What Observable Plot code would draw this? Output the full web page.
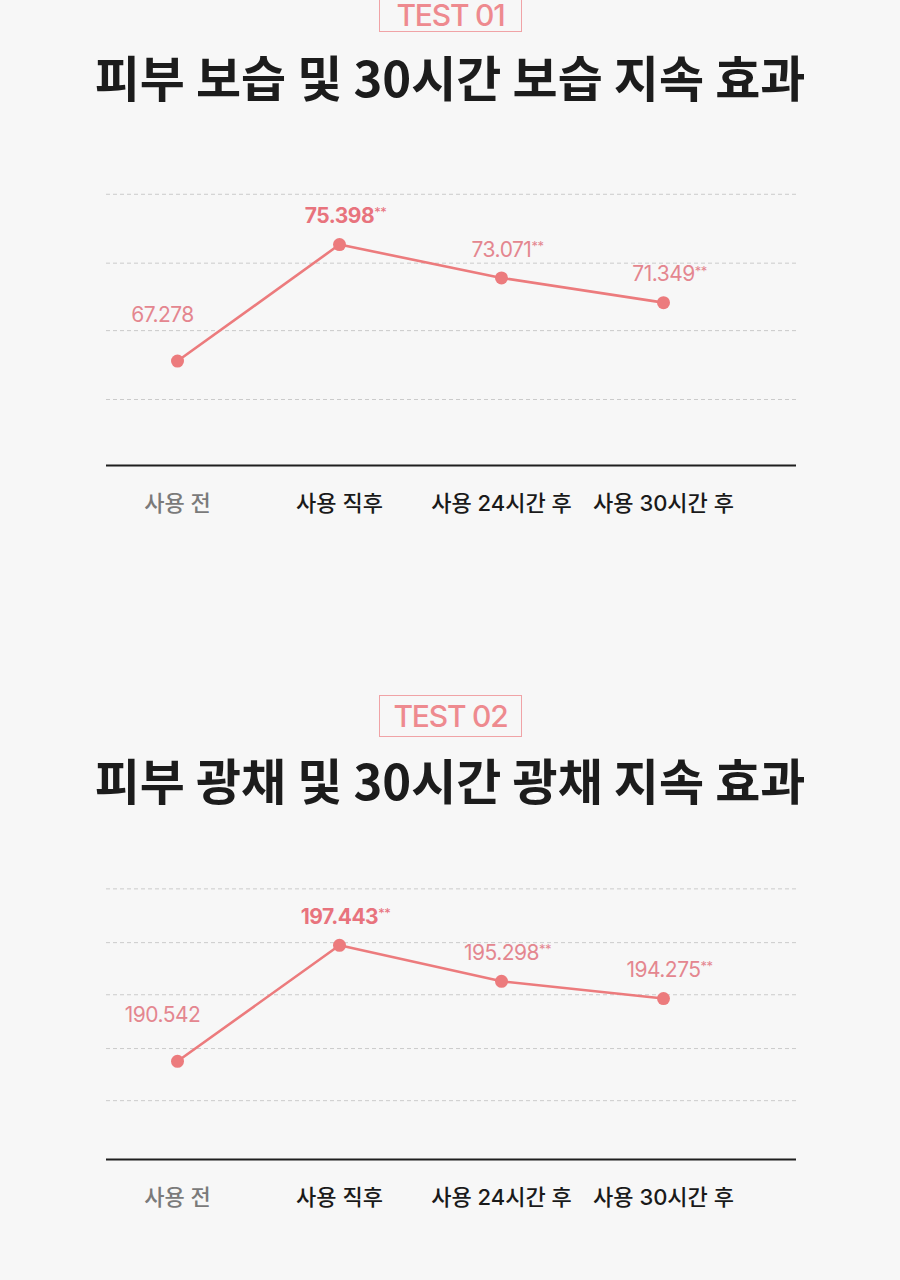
<!DOCTYPE html>
<html>
<head>
<meta charset="utf-8">
<script src="https://cdn.jsdelivr.net/npm/d3@7"></script>
<script src="https://cdn.jsdelivr.net/npm/@observablehq/plot@0.6"></script>
<style>
  html, body { margin: 0; padding: 0; }
  body { background: #f7f7f7; width: 900px; height: 1280px; overflow: hidden; position: relative;
         font-family: Inter, "Noto Sans CJK KR", sans-serif; }
  .badge { position: absolute; left: 379px; width: 143px; height: 42px; box-sizing: border-box;
           border: 1px solid #f0a3a6; color: #ee8a8f; font-family: Inter, sans-serif; font-size: 30px;
           line-height: 30px; font-weight: 500; letter-spacing: -1.2px; display: flex; align-items: center;
           justify-content: center; }
  #badge1 { height: 32px; border-top: none; align-items: flex-start; }
  .title { position: absolute; left: 0; width: 900px; text-align: center; line-height: 1;
           font-family: "Noto Sans CJK KR", sans-serif; font-weight: 700; font-size: 49px;
           letter-spacing: 0px; color: #1c1c1c; }
  .chart { position: absolute; left: 0; }
</style>
</head>
<body>
<div class="badge" id="badge1" style="top:0px"></div>
<div class="title" id="title1" style="top:51px"></div>
<div class="chart" id="chart1" style="top:150px"></div>
<div class="badge" id="badge2" style="top:695px"></div>
<div class="title" id="title2" style="top:754px"></div>
<div class="chart" id="chart2" style="top:850px"></div>
<script>
// ---- data ----
const badges = ["TEST 01", "TEST 02"];
const titles = ["피부 보습 및 30시간 보습 지속 효과", "피부 광채 및 30시간 광채 지속 효과"];
const stages = ["사용 전", "사용 직후", "사용 24시간 후", "사용 30시간 후"];
const moisture = [67.278, 75.398, 73.071, 71.349];
const radiance = [190.542, 197.443, 195.298, 194.275];
const significant = [false, true, true, true];   // "**" marker
const emphasis = [false, true, false, false];    // bold value label
const moistureDomain = [60, 80];
const moistureGrid = [64.6, 69.4, 74.1, 78.9];
const radianceDomain = [184.7, 201];
const radianceGrid = [188.2, 191.3, 194.5, 197.6, 200.8];

const fmt = d3.format(".3f");
const lineColor = "#ec7b7d";
const labelColor = "#e4868f";

function chart(values, domain, grid, marginTop, marginBottom) {
  const data = stages.map((stage, i) => ({stage, value: values[i], i}));
  const svg = Plot.plot({
    width: 900,
    height: 400,
    marginLeft: 106,
    marginRight: 104,
    marginTop,
    marginBottom,
    style: {background: "transparent", fontFamily: 'Inter, "Noto Sans CJK KR", sans-serif', overflow: "visible"},
    x: {type: "point", domain: stages, padding: 0.62, align: 0.35, axis: null},
    y: {domain, axis: null},
    color: {type: "identity"},
    marks: [
      Plot.ruleY(grid, {stroke: "#cbcbcb", strokeWidth: 1, strokeDasharray: "4,3"}),
      Plot.ruleY([domain[0]], {stroke: "#1f1f1f", strokeWidth: 2.2}),
      Plot.line(data, {x: "stage", y: "value", stroke: lineColor, strokeWidth: 2.6}),
      Plot.dot(data, {x: "stage", y: "value", r: 6.5, fill: lineColor, stroke: "none"}),
      Plot.text(data, {filter: d => !significant[d.i], x: "stage", y: "value", text: d => fmt(d.value),
        dx: -15, dy: -46, fill: labelColor, fontSize: 21}),
      Plot.text(data, {filter: d => significant[d.i] && !emphasis[d.i], x: "stage", y: "value", text: d => fmt(d.value),
        dx: 6, dy: -28, fill: labelColor, fontSize: 21}),
      Plot.text(data, {filter: d => significant[d.i] && emphasis[d.i], x: "stage", y: "value", text: d => fmt(d.value),
        dx: 6, dy: -28, fill: "#e8737d", fontSize: 21, fontWeight: 700}),
      Plot.text(stages, {x: d => d, frameAnchor: "bottom", lineAnchor: "middle", dy: 38,
        fill: (d, i) => i === 0 ? "#7a7a7a" : "#1a1a1a", fontSize: 22, fontWeight: 500})
    ]
  });
  const sigLabels = new Set(data.filter(d => significant[d.i]).map(d => fmt(d.value)));
  d3.select(svg).selectAll("text").each(function() {
    const t = d3.select(this);
    if (sigLabels.has(this.textContent)) {
      t.attr("letter-spacing", -0.5);
      t.append("tspan").attr("dy", "-0.45em").attr("font-size", 13).attr("font-weight", 400).text("**");
    } else if (/^\d+\.\d+$/.test(this.textContent)) {
      t.attr("letter-spacing", -0.5);
    }
  });
  return svg;
}

document.getElementById("badge1").textContent = badges[0];
document.getElementById("badge2").textContent = badges[1];
document.getElementById("title1").textContent = titles[0];
document.getElementById("title2").textContent = titles[1];
document.getElementById("chart1").appendChild(chart(moisture, moistureDomain, moistureGrid, 28, 85));
document.getElementById("chart2").appendChild(chart(radiance, radianceDomain, radianceGrid, 35, 91));
</script>
</body>
</html>
